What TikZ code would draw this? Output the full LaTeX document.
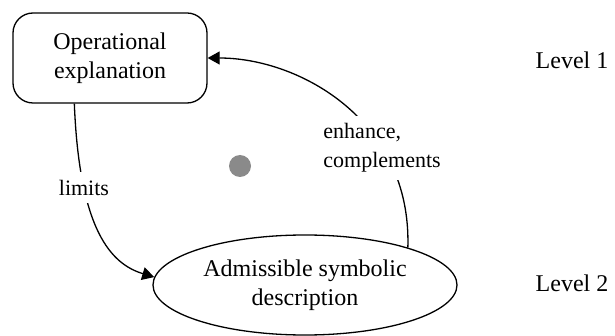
\documentclass[tikz,border=0pt]{standalone}
\usepackage{fontspec}
\setmainfont{Liberation Serif}
\usetikzlibrary{shapes.geometric,arrows.meta}
\definecolor{dotgray}{HTML}{8A8A8A}
\begin{document}
\begin{tikzpicture}[x=0.5pt,y=-0.5pt,line width=0.65pt,
				box/.style={draw,rounded corners=10pt,minimum width=97pt,minimum height=45pt,align=center,font=\fontsize{12}{14.5}\selectfont},
				oval/.style={draw,ellipse,inner sep=0pt,minimum width=152pt,minimum height=50pt,align=center,font=\fontsize{12}{14.5}\selectfont},
				lbl/.style={fill=white,inner sep=4pt,font=\fontsize{11}{14.5}\selectfont},
				lvl/.style={font=\fontsize{12}{14.5}\selectfont},
				arr/.style={-{Triangle[length=6pt,width=6.5pt]}}]
\useasboundingbox (0,0) rectangle (615,336);
\node[box] (oper) at (110,58) {Operational\\explanation};
\node[oval] (symb) at (305,285) {Admissible symbolic\\description};
\node[circle,fill=dotgray,minimum size=11pt,inner sep=0pt] (dot) at (240,166) {};
\node[lvl] (lev1) at (572,60) {Level 1};
\node[lvl] (lev2) at (572,283) {Level 2};
% connectors
\draw[arr] (oper.232) .. controls +(5,127) and +(-43,-13) .. node[lbl,pos=0.27] {limits} (symb.177);
\draw[arr] (symb.20) .. controls +(4,-127) and +(92,0) .. node[lbl,pos=0.31,align=left] {enhance,\\complements} (oper.east);
\end{tikzpicture}
\end{document}
